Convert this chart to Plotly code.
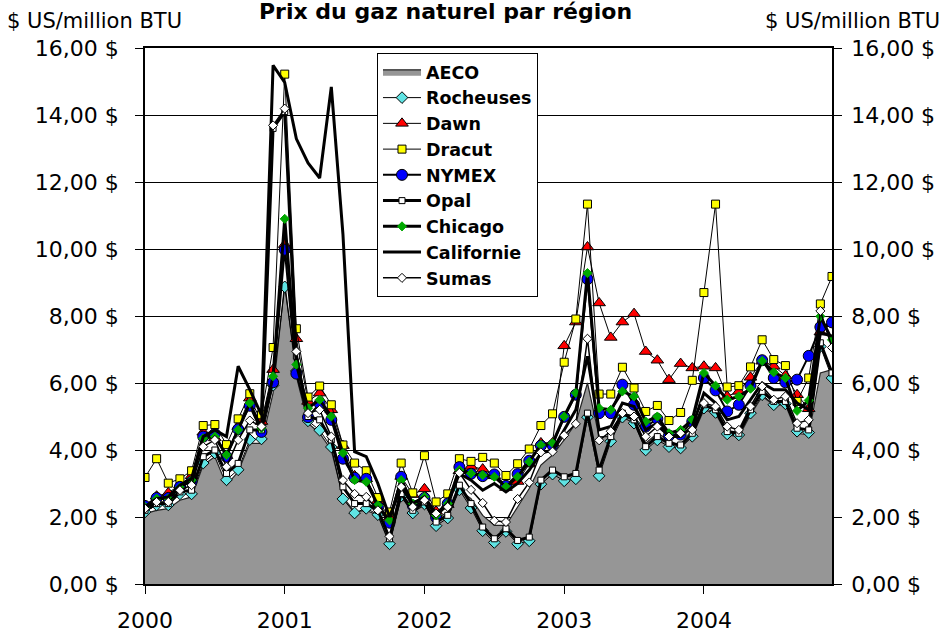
import plotly.graph_objects as go

months = [f"{y}-{m:02d}" for y in range(2000, 2005) for m in range(1, 13)]
year_ticks = ["2000-01", "2001-01", "2002-01", "2003-01", "2004-01"]
year_labels = ["2000", "2001", "2002", "2003", "2004"]

aeco = [2.10, 2.20, 2.25, 2.50, 2.60, 3.55, 3.80, 2.95, 3.35, 4.20, 4.20, 5.70,
        9.00, 6.20, 4.80, 4.50, 4.00, 2.60, 2.15, 2.20, 2.05, 1.20, 2.60, 2.15,
        2.35, 1.95, 2.15, 2.80, 2.55, 2.05, 1.75, 1.75, 2.30, 2.85, 3.55, 3.85,
        4.30, 4.80, 6.00, 4.40, 4.40, 5.00, 4.90, 4.20, 4.50, 4.30, 4.10, 4.40,
        5.20, 5.10, 4.45, 4.40, 5.05, 5.60, 5.35, 5.35, 4.50, 4.45, 6.30, 6.40]
rocheuses = [2.15, 2.36, 2.36, 2.69, 2.69, 3.61, 3.91, 3.11, 3.41, 4.31, 4.33, 5.93,
             8.87, 6.36, 4.87, 4.59, 4.09, 2.54, 2.12, 2.26, 2.07, 1.20, 2.62, 2.12,
             2.39, 1.74, 1.97, 2.81, 2.27, 1.59, 1.24, 1.57, 1.20, 1.29, 2.98, 3.28,
             3.08, 3.14, 4.98, 3.23, 4.26, 4.98, 4.80, 4.00, 4.30, 4.10, 4.06, 4.41,
             5.25, 5.12, 4.48, 4.45, 5.10, 5.65, 5.35, 5.38, 4.56, 4.52, 7.09, 6.15]
dawn = [2.34, 2.62, 2.72, 2.96, 3.23, 4.53, 4.36, 3.83, 4.70, 5.55, 4.85, 6.40,
        10.13, 7.32, 5.45, 5.70, 5.20, 4.13, 3.23, 3.14, 2.49, 1.99, 3.21, 2.67,
        2.84, 2.17, 2.37, 3.38, 3.51, 3.43, 3.23, 2.88, 3.06, 3.58, 4.21, 4.21,
        7.11, 7.82, 10.06, 8.39, 7.36, 7.82, 8.07, 6.94, 6.68, 6.10, 6.58, 6.45,
        6.50, 6.45, 5.60, 5.75, 6.17, 6.65, 6.50, 6.22, 5.65, 5.23, 7.52, 7.77]
dracut = [3.18, 3.74, 3.01, 3.14, 3.38, 4.73, 4.76, 4.16, 4.93, 5.68, 5.05, 7.06,
          15.22, 7.62, 5.58, 5.91, 5.35, 4.15, 3.61, 3.38, 2.58, 2.15, 3.61, 2.72,
          3.83, 2.45, 2.69, 3.74, 3.66, 3.78, 3.61, 3.24, 3.59, 4.03, 4.73, 5.08,
          6.62, 7.91, 11.34, 5.67, 5.67, 6.47, 5.85, 5.15, 5.33, 4.88, 5.12, 6.08,
          8.70, 11.34, 5.88, 5.92, 6.48, 7.29, 6.70, 6.52, 5.45, 6.15, 8.36, 9.18]
nymex = [2.33, 2.57, 2.57, 2.90, 3.06, 4.40, 4.48, 3.80, 4.62, 5.32, 4.54, 6.02,
         9.98, 6.28, 4.98, 5.39, 4.90, 3.74, 3.17, 3.14, 2.30, 1.83, 3.20, 2.34,
         2.57, 1.99, 2.40, 3.49, 3.29, 3.22, 3.27, 2.93, 3.28, 3.68, 4.13, 4.14,
         4.99, 5.65, 9.10, 5.10, 5.10, 5.95, 5.35, 4.70, 4.93, 4.43, 4.46, 4.85,
         6.15, 5.78, 5.15, 5.35, 5.92, 6.68, 6.15, 6.02, 6.10, 6.81, 7.67, 7.81]
opal = [2.20, 2.40, 2.40, 2.75, 2.80, 3.80, 4.00, 3.30, 3.60, 4.60, 4.60, 13.60,
        14.10, 6.80, 5.00, 4.90, 4.30, 2.90, 2.40, 2.40, 2.20, 1.35, 2.70, 2.20,
        2.45, 1.85, 2.05, 2.95, 2.40, 1.70, 1.35, 1.65, 1.30, 1.40, 3.10, 3.40,
        3.20, 3.30, 5.10, 3.40, 4.40, 5.10, 4.90, 4.10, 4.40, 4.20, 4.15, 4.50,
        5.35, 5.20, 4.55, 4.50, 5.20, 5.75, 5.45, 5.45, 4.65, 4.60, 7.20, 6.30]
chicago = [2.30, 2.55, 2.55, 2.88, 3.10, 4.35, 4.40, 3.85, 4.60, 5.40, 4.65, 6.20,
           10.90, 6.55, 5.25, 5.50, 5.00, 3.91, 3.10, 3.05, 2.35, 1.90, 3.10, 2.40,
           2.60, 2.05, 2.40, 3.40, 3.30, 3.25, 3.20, 2.90, 3.20, 3.65, 4.15, 4.20,
           5.00, 5.70, 9.28, 5.25, 5.20, 5.75, 5.60, 4.85, 5.00, 4.50, 4.60, 4.90,
           6.30, 5.92, 5.50, 5.60, 5.83, 6.66, 6.32, 6.15, 5.17, 5.48, 7.99, 7.29]
californie = [2.30, 2.55, 2.60, 2.95, 3.15, 4.40, 4.60, 4.40, 6.50, 5.80, 5.05, 15.48,
              14.97, 13.29, 12.57, 12.12, 14.84, 10.44, 3.95, 3.80, 3.00, 2.00, 2.90, 2.40,
              2.60, 2.10, 2.40, 3.30, 3.10, 2.80, 3.00, 2.75, 3.00, 3.40, 3.90, 4.00,
              4.60, 5.20, 6.80, 4.60, 4.70, 5.40, 5.30, 4.60, 4.80, 4.40, 4.40, 4.70,
              5.70, 5.40, 4.90, 5.00, 5.50, 6.00, 5.80, 5.80, 5.40, 5.20, 7.50, 7.40]
sumas = [2.25, 2.45, 2.45, 2.80, 2.95, 4.10, 4.30, 3.50, 4.30, 4.88, 4.70, 13.69,
         14.19, 6.94, 5.10, 5.20, 4.40, 3.10, 2.69, 2.60, 2.20, 1.42, 2.90, 2.30,
         2.50, 2.10, 2.30, 3.32, 2.81, 2.42, 1.89, 1.85, 2.54, 3.03, 3.93, 3.95,
         4.44, 4.78, 7.32, 4.29, 4.56, 5.10, 5.00, 4.40, 4.70, 4.40, 4.50, 4.60,
         5.40, 5.30, 4.70, 4.60, 5.30, 5.90, 5.50, 5.60, 4.80, 4.90, 8.15, 7.06]

FONT = "DejaVu Sans"
fig = go.Figure()

fig.add_trace(go.Scatter(x=months, y=aeco, name="AECO", mode="lines", fill="tozeroy",
                         fillcolor="#969696", line=dict(color="#222222", width=1.2)))

def line_series(name, y, lw, symbol=None, size=8, color="white", mline="black"):
    if symbol is None:
        return go.Scatter(x=months, y=y, name=name, mode="lines",
                          line=dict(color="black", width=lw))
    return go.Scatter(x=months, y=y, name=name, mode="lines+markers",
                      line=dict(color="black", width=lw),
                      marker=dict(symbol=symbol, size=size, color=color,
                                  line=dict(color=mline, width=1)))

fig.add_trace(line_series("Rocheuses", rocheuses, 1, "diamond", 9, "#5FE3E3"))
fig.add_trace(line_series("Dawn", dawn, 1, "triangle-up", 11, "#FF0000"))
fig.add_trace(line_series("Dracut", dracut, 1, "square", 8, "#FFFF00"))
fig.add_trace(line_series("NYMEX", nymex, 2, "circle", 11, "#0000FF"))
fig.add_trace(line_series("Opal", opal, 3, "square", 6, "white"))
fig.add_trace(line_series("Chicago", chicago, 3, "diamond", 7, "#00A800", "#00A800"))
fig.add_trace(line_series("Californie", californie, 3))
fig.add_trace(line_series("Sumas", sumas, 1.5, "diamond", 7, "white"))

# invisible trace to activate right axis
fig.add_trace(go.Scatter(x=months, y=aeco, yaxis="y2", mode="lines", showlegend=False,
                         hoverinfo="skip", line=dict(width=0, color="rgba(0,0,0,0)")))

yax = dict(range=[0, 16], dtick=2, tick0=0, tickformat=".2f", ticksuffix=" $",
           ticks="outside", ticklen=8, tickcolor="black", tickwidth=1,
           showline=True, linecolor="black", linewidth=1.5, zeroline=False,
           tickfont=dict(family=FONT, size=22, color="black"))

fig.update_layout(
    width=946, height=635,
    margin=dict(l=145, r=114, t=48, b=51, autoexpand=False),
    paper_bgcolor="white", plot_bgcolor="white",
    separators=", ",
    showlegend=True,
    legend=dict(x=0.3377, y=0.9907, xanchor="left", yanchor="top",
                bgcolor="white", bordercolor="black", borderwidth=1,
                font=dict(family=FONT, size=17.5, color="black", weight="bold"),
                tracegroupgap=0, itemwidth=38),
    xaxis=dict(type="category", range=[0, 59], tickmode="array", tickvals=year_ticks,
               ticktext=year_labels, ticks="outside", ticklen=8, tickcolor="black",
               showline=True, linecolor="black", linewidth=2, mirror=True,
               showgrid=False, ticklabelstandoff=8,
               tickfont=dict(family=FONT, size=22, color="black")),
    yaxis=dict(**yax, showgrid=True, gridcolor="black", gridwidth=1,
               ticklabelstandoff=12),
    yaxis2=dict(**yax, overlaying="y", side="right", showgrid=False,
                ticklabelstandoff=5),
    annotations=[
        dict(text="<b>Prix du gaz naturel par région</b>", x=0.4367, y=1.0672,
             xref="paper", yref="paper", xanchor="center", yanchor="middle",
             showarrow=False, font=dict(family=FONT, size=22, color="black")),
        dict(text="$ US/million BTU", x=-0.2038, y=1.0504, xref="paper", yref="paper",
             xanchor="left", yanchor="middle", showarrow=False,
             font=dict(family=FONT, size=21, color="black")),
        dict(text="$ US/million BTU", x=0.8996, y=1.0504, xref="paper", yref="paper",
             xanchor="left", yanchor="middle", showarrow=False,
             font=dict(family=FONT, size=21, color="black")),
    ],
)

fig.write_html("out.html", config={"displayModeBar": False},
               post_script="document.body.style.margin='0';document.body.style.overflow='hidden';")
